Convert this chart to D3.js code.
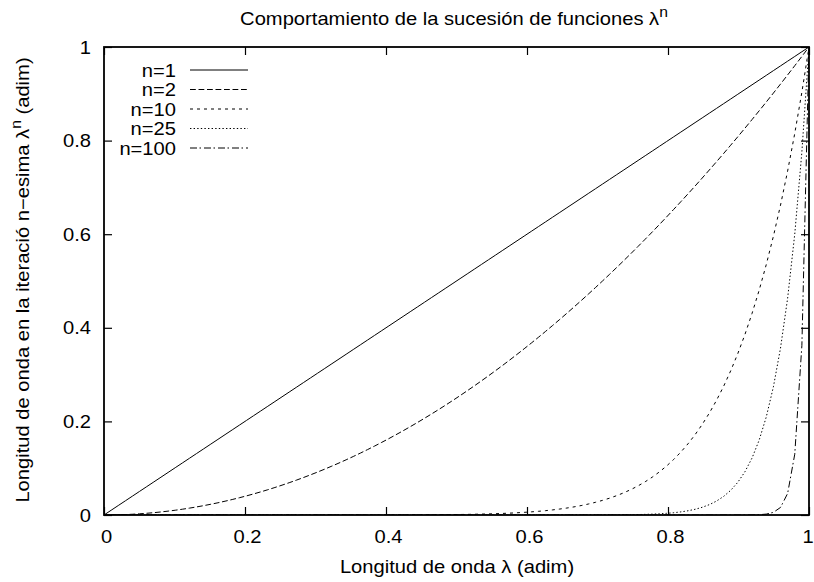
<!DOCTYPE html>
<html>
<head>
<meta charset="utf-8">
<script src="https://cdn.jsdelivr.net/npm/d3@7"></script>
<style>
  html, body { margin: 0; padding: 0; background: #fff; }
  svg { display: block; }
  text { font-family: "Liberation Sans", Arial, Helvetica, sans-serif; fill: #000; }
</style>
</head>
<body>
<svg id="chart" width="814" height="582"></svg>
<script>
// Exponents of the family λ^n and their key labels
const exponents = [1, 2, 10, 25, 100];
const seriesLabels = ["n=1", "n=2", "n=10", "n=25", "n=100"];
const dashPatterns = ["none", "5.8,2.7", "3,4", "1.4,2.2", "7,2.5,1.5,3"];
const xTicks = [0, 0.2, 0.4, 0.6, 0.8, 1];
const yTicks = [0, 0.2, 0.4, 0.6, 0.8, 1];
const sampleCount = 100;

const svg = d3.select("#chart");
const margin = { left: 104, right: 5, top: 47, bottom: 67 };
const W = 814, H = 582;
const x = d3.scaleLinear().domain([0, 1]).range([margin.left, W - margin.right]);
const y = d3.scaleLinear().domain([0, 1]).range([H - margin.bottom, margin.top]);
const SX = 1.12, FS = 18;

// Sample points along λ in [0,1], as the plotting program does
const lambdas = d3.range(sampleCount).map(i => i / (sampleCount - 1));
const series = exponents.map((n, k) => ({
  label: seriesLabels[k],
  dash: dashPatterns[k],
  points: lambdas.map(l => [l, Math.pow(l, n)])
}));

const line = d3.line().x(d => x(d[0])).y(d => y(d[1]));

// Clip to the plot frame
svg.append("defs").append("clipPath").attr("id", "plotClip")
  .append("rect").attr("x", x(0)).attr("y", y(1))
  .attr("width", x(1) - x(0)).attr("height", y(0) - y(1));

// Curves
const curves = svg.append("g").attr("clip-path", "url(#plotClip)");
series.forEach(s => {
  curves.append("path").datum(s.points)
    .attr("d", line).attr("fill", "none").attr("stroke", "#000")
    .attr("stroke-width", 1)
    .attr("stroke-dasharray", s.dash);
});

// Helper: text with a slightly wider glyph aspect
function label(g, px, py, str, anchor, rotate) {
  const t = g.append("text")
    .attr("transform", `translate(${px},${py})` + (rotate ? ` rotate(${rotate})` : "") + ` scale(${SX},1)`)
    .attr("text-anchor", anchor)
    .attr("font-size", FS);
  if (str !== null) t.text(str);
  return t;
}

// Axes: ticks inward on all four sides
const tickLen = 8;
const axes = svg.append("g");
const axBottom = d3.axisBottom(x).tickValues(xTicks).tickSize(-tickLen).tickFormat("");
const axTop = d3.axisTop(x).tickValues(xTicks).tickSize(-tickLen).tickFormat("");
const axLeft = d3.axisLeft(y).tickValues(yTicks).tickSize(-tickLen).tickFormat("");
const axRight = d3.axisRight(y).tickValues(yTicks).tickSize(-tickLen).tickFormat("");
axes.append("g").attr("transform", `translate(0,${y(0)})`).call(axBottom);
axes.append("g").attr("transform", `translate(0,${y(1)})`).call(axTop);
axes.append("g").attr("transform", `translate(${x(0)},0)`).call(axLeft);
axes.append("g").attr("transform", `translate(${x(1)},0)`).call(axRight);
axes.selectAll(".domain").remove();
axes.selectAll(".tick line").attr("stroke", "#000").attr("stroke-width", 1.2);

// Frame
svg.append("rect").attr("x", x(0)).attr("y", y(1))
  .attr("width", x(1) - x(0)).attr("height", y(0) - y(1))
  .attr("fill", "none").attr("stroke", "#000").attr("stroke-width", 1.8);

// Tick labels
const fmt = d => (d === 0 || d === 1) ? String(d) : d.toFixed(1);
xTicks.forEach(v => label(svg, Math.min(x(v) + 2.5, 808), 543, fmt(v), "middle"));
yTicks.forEach(v => label(svg, 91, y(v) + 6.5, fmt(v), "end"));

// Title
const title = label(svg, 454, 25, null, "middle");
title.append("tspan").text("Comportamiento de la sucesión de funciones λ");
title.append("tspan").attr("dy", -8).attr("font-size", 14).text("n");

// X axis title
label(svg, 457, 573, "Longitud de onda λ (adim)", "middle");

// Y axis title
const ylab = label(svg, 29, 280, null, "middle", -90);
ylab.append("tspan").text("Longitud de onda en la iteració n−esima λ");
ylab.append("tspan").attr("dy", -8).attr("font-size", 14).text("n");
ylab.append("tspan").attr("dy", 8).text(" (adim)");

// Key
const keyY = [70, 89.5, 109, 128.5, 148];
series.forEach((s, i) => {
  label(svg, 176, keyY[i] + 6.5, s.label, "end");
  svg.append("line")
    .attr("x1", 190).attr("x2", 248).attr("y1", keyY[i]).attr("y2", keyY[i])
    .attr("stroke", "#000").attr("stroke-width", 1)
    .attr("stroke-dasharray", s.dash);
});
</script>
</body>
</html>
